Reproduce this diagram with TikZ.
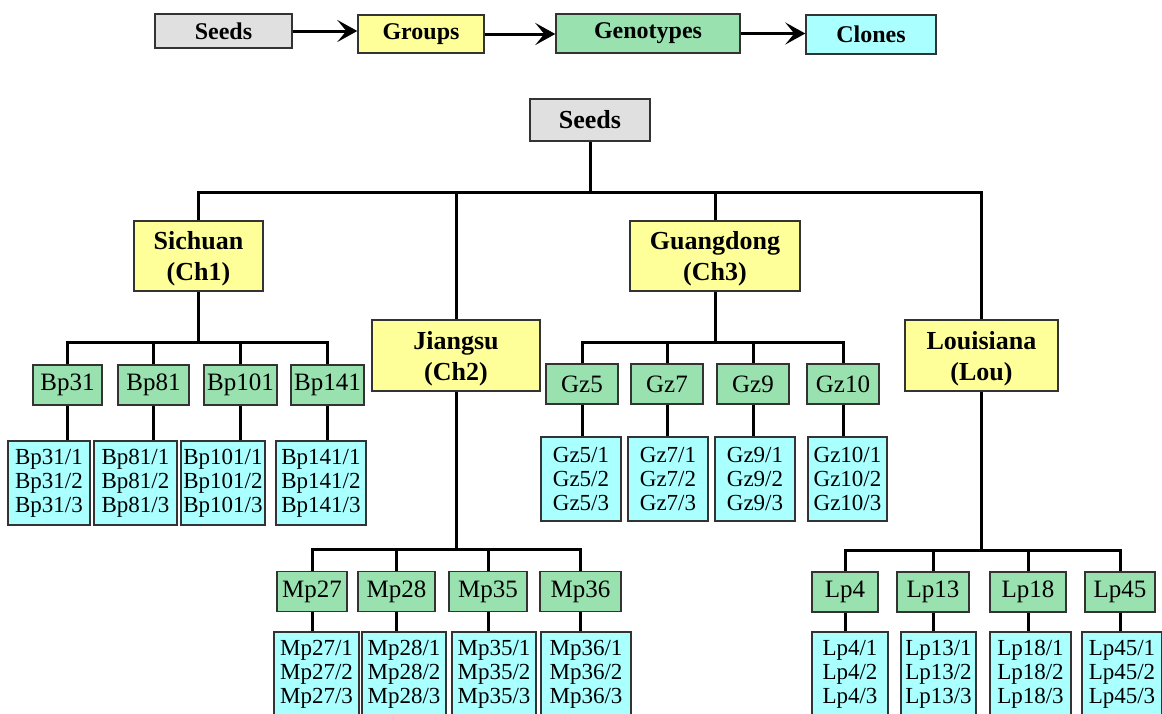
\documentclass[tikz,border=0pt]{standalone}
\usepackage{fontspec}
\setmainfont{Liberation Serif}
\usetikzlibrary{arrows.meta}
\definecolor{seedgray}{RGB}{224,224,224}
\definecolor{groupyellow}{RGB}{255,255,153}
\definecolor{genogreen}{RGB}{153,226,176}
\definecolor{clonecyan}{RGB}{170,255,255}
\begin{document}
\begin{tikzpicture}[x=1pt,y=-1pt,
 box/.style={draw=black!80,line width=1.4pt,inner sep=0pt,align=center},
 seedbox/.style={box,fill=seedgray,font=\fontsize{24}{28}\selectfont\bfseries},
 groupbox/.style={box,fill=groupyellow,text depth=0pt,font=\fontsize{26}{31}\selectfont\bfseries},
 genobox/.style={box,fill=genogreen,minimum height=40pt,font=\fontsize{25}{28}\selectfont},
 clonebox/.style={box,fill=clonecyan,minimum height=84pt,font=\fontsize{23}{24}\selectfont},
 link/.style={line width=3pt},
 flow/.style={line width=3pt,-{Stealth[length=20pt,width=22pt,inset=9pt]}}]
 \clip (0,0) rectangle (1162,713);
 % legend
 \node[seedbox,minimum width=137pt,minimum height=34pt] (lseeds) at (223.5,31) {Seeds};
 \node[groupbox,text depth=,font=\fontsize{24}{28}\selectfont\bfseries,minimum width=126pt,minimum height=38pt] (lgroups) at (421,34) {Groups};
 \node[box,fill=genogreen,font=\fontsize{24}{28}\selectfont\bfseries,minimum width=184pt,minimum height=39pt] (lgeno) at (648,33.5) {Genotypes};
 \node[box,fill=clonecyan,font=\fontsize{24}{28}\selectfont\bfseries,minimum width=130pt,minimum height=39pt] (lclones) at (871,34.5) {Clones};
 \draw[flow] (lseeds.east) -- (lseeds.east -| lgroups.west);
 \draw[flow] (lgroups.east) -- (lgroups.east -| lgeno.west);
 \draw[flow] (lgeno.east) -- (lgeno.east -| lclones.west);
 % seeds and groups
 \node[seedbox,font=\fontsize{26}{30}\selectfont\bfseries,minimum width=120pt,minimum height=42pt] (seeds) at (590,120) {Seeds};
 \node[groupbox,minimum width=129pt,minimum height=70pt] (sichuan) at (198.5,256) {Sichuan\\(Ch1)};
 \node[groupbox,minimum width=168pt,minimum height=71pt] (jiangsu) at (456,355.5) {Jiangsu\\(Ch2)};
 \node[groupbox,minimum width=170pt,minimum height=70pt] (guangdong) at (715,256) {Guangdong\\(Ch3)};
 \node[groupbox,minimum width=153pt,minimum height=71pt] (louisiana) at (981.5,355.5) {Louisiana\\(Lou)};
 \draw[link] (seeds.south) -- ++(0,51) coordinate (s0);
 \foreach \g in {sichuan,jiangsu,guangdong,louisiana}
  \draw[link] (s0) -| (\g.north);
 % Sichuan
 \node[genobox,minimum width=69pt] (bp31) at (67.5,385) {Bp31};
 \node[genobox,minimum width=71pt] (bp81) at (153.5,385) {Bp81};
 \node[genobox,minimum width=73pt] (bp101) at (240.5,385) {Bp101};
 \node[genobox,minimum width=73pt] (bp141) at (327.5,385) {Bp141};
 \node[clonebox,minimum width=82pt] (bp31c) at (49,483) {Bp31/1\\Bp31/2\\Bp31/3};
 \node[clonebox,minimum width=83pt] (bp81c) at (135.5,483) {Bp81/1\\Bp81/2\\Bp81/3};
 \node[clonebox,minimum width=84pt] (bp101c) at (223,483) {Bp101/1\\Bp101/2\\Bp101/3};
 \node[clonebox,minimum width=90pt] (bp141c) at (321,483) {Bp141/1\\Bp141/2\\Bp141/3};
 \draw[link] (sichuan.south) -- ++(0,51) coordinate (s1);
 % Guangdong
 \node[genobox,minimum width=72pt] (gz5) at (582,384) {Gz5};
 \node[genobox,minimum width=72pt] (gz7) at (667,384) {Gz7};
 \node[genobox,minimum width=72pt] (gz9) at (753,384) {Gz9};
 \node[genobox,minimum width=72pt] (gz10) at (843,384) {Gz10};
 \node[clonebox,minimum width=80pt] (gz5c) at (581,479) {Gz5/1\\Gz5/2\\Gz5/3};
 \node[clonebox,minimum width=80pt] (gz7c) at (668,479) {Gz7/1\\Gz7/2\\Gz7/3};
 \node[clonebox,minimum width=80pt] (gz9c) at (755,479) {Gz9/1\\Gz9/2\\Gz9/3};
 \node[clonebox,minimum width=79pt] (gz10c) at (847.5,479) {Gz10/1\\Gz10/2\\Gz10/3};
 \draw[link] (guangdong.south) -- ++(0,51) coordinate (s3);
 % Jiangsu
 \node[genobox,minimum width=70pt] (mp27) at (312,591.5) {Mp27};
 \node[genobox,minimum width=77pt] (mp28) at (396.5,591.5) {Mp28};
 \node[genobox,minimum width=78pt] (mp35) at (488,591.5) {Mp35};
 \node[genobox,minimum width=81pt] (mp36) at (580.5,591.5) {Mp36};
 \node[clonebox,minimum width=85pt] (mp27c) at (316.5,674) {Mp27/1\\Mp27/2\\Mp27/3};
 \node[clonebox,minimum width=84pt] (mp28c) at (404,674) {Mp28/1\\Mp28/2\\Mp28/3};
 \node[clonebox,minimum width=84pt] (mp35c) at (494,674) {Mp35/1\\Mp35/2\\Mp35/3};
 \node[clonebox,minimum width=90pt] (mp36c) at (586,674) {Mp36/1\\Mp36/2\\Mp36/3};
 \draw[link] (jiangsu.south) -- ++(0,158) coordinate (s2);
 % Louisiana
 \node[genobox,minimum width=66pt] (lp4) at (845,592) {Lp4};
 \node[genobox,minimum width=72pt] (lp13) at (933,592) {Lp13};
 \node[genobox,minimum width=76pt] (lp18) at (1028,592) {Lp18};
 \node[genobox,minimum width=70pt] (lp45) at (1120,592) {Lp45};
 \node[clonebox,minimum width=76pt] (lp4c) at (850,674) {Lp4/1\\Lp4/2\\Lp4/3};
 \node[clonebox,minimum width=75pt] (lp13c) at (938.5,674) {Lp13/1\\Lp13/2\\Lp13/3};
 \node[clonebox,minimum width=81pt] (lp18c) at (1030.5,674) {Lp18/1\\Lp18/2\\Lp18/3};
 \node[clonebox,minimum width=80pt] (lp45c) at (1122,674) {Lp45/1\\Lp45/2\\Lp45/3};
 \draw[link] (louisiana.south) -- ++(0,159) coordinate (s4);
 % genotypes to clones
 \foreach \p/\k in {s1/bp31,s1/bp81,s1/bp101,s1/bp141,s3/gz5,s3/gz7,s3/gz9,s3/gz10,
   s2/mp27,s2/mp28,s2/mp35,s2/mp36,s4/lp4,s4/lp13,s4/lp18,s4/lp45}{
  \draw[link] (\p) -| (\k.north);
  \draw[link] (\k.south) -- (\k.south |- \k c.north);
 }
\end{tikzpicture}
\end{document}
